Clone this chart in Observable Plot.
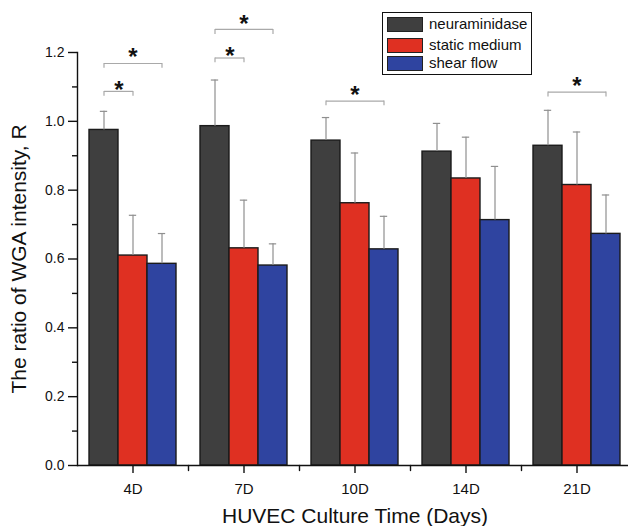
<!DOCTYPE html>
<html><head><meta charset="utf-8">
<script src="https://cdn.jsdelivr.net/npm/d3@7"></script>
<script src="https://cdn.jsdelivr.net/npm/@observablehq/plot@0.6"></script>
<style>
body{margin:0;background:#fff;}
#wrap{position:relative;width:628px;height:526px;font-family:"Liberation Sans",Arial,sans-serif;}
#legend{position:absolute;left:382px;top:12px;width:150px;height:63px;box-sizing:border-box;border:1.5px solid #111;background:#fff;}
.item{position:absolute;left:4px;height:16px;width:140px;}
.sw{position:absolute;left:0;top:0;width:36px;height:15px;box-sizing:border-box;border:1px solid #222;}
.lab{position:absolute;left:42px;top:-2px;font-size:15px;line-height:18px;white-space:nowrap;color:#111;}
svg g[aria-label="y-axis label"] text, svg g[aria-label="fx-axis label"] text{font-size:21px;}
svg g[aria-label="fx-axis tick label"] text{font-size:15px;}
</style></head><body><div id="wrap"></div>
<script>
// categories
const days = ["4D", "7D", "10D", "14D", "21D"];
const series = ["neuraminidase", "static medium", "shear flow"];
const colors = ["#3f3f3f", "#df3022", "#2f44a0"];
// mean values
const neuraminidase = [0.975, 0.986, 0.944, 0.912, 0.929];
const staticMedium = [0.610, 0.631, 0.762, 0.834, 0.815];
const shearFlow = [0.586, 0.581, 0.628, 0.713, 0.673];
// error (upper SD)
const neuraminidaseErr = [0.054, 0.134, 0.067, 0.082, 0.103];
const staticMediumErr = [0.117, 0.140, 0.146, 0.120, 0.154];
const shearFlowErr = [0.088, 0.063, 0.096, 0.156, 0.113];
// significance brackets
const bracketDay = ["4D", "4D", "7D", "7D", "10D", "21D"];
const bracketFrom = ["neuraminidase", "neuraminidase", "neuraminidase", "neuraminidase", "neuraminidase", "neuraminidase"];
const bracketTo = ["static medium", "shear flow", "static medium", "shear flow", "shear flow", "shear flow"];
const bracketTop = [1.087, 1.168, 1.184, 1.267, 1.059, 1.085];
const bracketLow = [1.073, 1.154, 1.170, 1.252, 1.045, 1.071];
const starY = [1.110, 1.204, 1.209, 1.300, 1.095, 1.121];
// tick labels
const majorTicks = [0, 0.2, 0.4, 0.6, 0.8, 1.0, 1.2];
const minorTicks = [0.1, 0.3, 0.5, 0.7, 0.9, 1.1];

const values = [neuraminidase, staticMedium, shearFlow];
const errors = [neuraminidaseErr, staticMediumErr, shearFlowErr];
const rows = days.flatMap((day, i) => series.map((s, j) => ({day, series: s, value: values[j][i], hi: values[j][i] + errors[j][i]})));
const brackets = bracketDay.map((day, i) => ({day, from: bracketFrom[i], to: bracketTo[i], top: bracketTop[i], low: bracketLow[i], star: starY[i]}));
const adjacent = brackets.filter(b => series.indexOf(b.to) - series.indexOf(b.from) === 1);
const spanning = brackets.filter(b => series.indexOf(b.to) - series.indexOf(b.from) === 2);

const W = 628, H = 526, mL = 76, mR = -4, mT = 52, mB = 61;
const outer = 0.374;
const facetW = (W - mL - mR) / days.length;
const barW = facetW / (series.length + 2 * outer);
const capW = 8;
const ink = "#111";
const tickShape = {draw(context, l) { context.moveTo(0, 0); context.lineTo(0, -l); }};

const plot = Plot.plot({
  width: W, height: H,
  marginLeft: mL, marginRight: mR, marginTop: mT, marginBottom: mB,
  style: {fontFamily: "Liberation Sans, Arial, sans-serif", fontSize: "14px", color: ink, background: "white"},
  fx: {domain: days, padding: 0},
  x: {domain: series, paddingInner: 0, paddingOuter: outer, axis: null},
  y: {domain: [0, 1.2]},
  color: {domain: series, range: colors},
  marks: [
    Plot.barY(rows, {fx: "day", x: "series", y: "value", fill: "series", stroke: "#1b1b1b", strokeWidth: 1.4}),
    Plot.ruleX(rows, {fx: "day", x: "series", y1: "value", y2: "hi", stroke: "#8f8f8f", strokeWidth: 1.2}),
    Plot.tickY(rows, {fx: "day", x: "series", y: "hi", stroke: "#8f8f8f", strokeWidth: 1.2, insetLeft: (barW - capW) / 2, insetRight: (barW - capW) / 2}),
    Plot.ruleY([0], {stroke: ink, strokeWidth: 1.4}),
    Plot.frame({anchor: "left", facetAnchor: "left", stroke: ink, strokeWidth: 1.4}),
    Plot.axisY({ticks: majorTicks, tickFormat: d3.format(".1f"), tickSize: 9, tickPadding: 4, strokeWidth: 1.4,
      label: "The ratio of WGA intensity, R", labelArrow: "none", labelAnchor: "center", labelOffset: 66}),
    Plot.axisY({ticks: minorTicks, tickFormat: () => "", tickSize: 5, strokeWidth: 1.4, label: null}),
    Plot.axisFx({anchor: "bottom", tickSize: 8, tickPadding: 10, strokeWidth: 1.4,
      label: "HUVEC Culture Time (Days)", labelArrow: "none", labelAnchor: "center", labelOffset: 57}),
    Plot.vector([0], {frameAnchor: "bottom-right", anchor: "start", rotate: 180, length: 5, shape: tickShape, stroke: ink, strokeWidth: 1.4}),
    Plot.link(brackets, {fx: "day", x1: "from", x2: "to", y1: "top", y2: "top", stroke: "#a9a9a9", strokeWidth: 1.2}),
    Plot.ruleX(brackets, {fx: "day", x: "from", y1: "low", y2: "top", stroke: "#a9a9a9", strokeWidth: 1.2}),
    Plot.ruleX(brackets, {fx: "day", x: "to", y1: "low", y2: "top", stroke: "#a9a9a9", strokeWidth: 1.2}),
    Plot.text(adjacent, {fx: "day", x: "from", y: "star", text: () => "*", dx: barW / 2, dy: 6.5, fontSize: 24, fontWeight: "bold", fill: ink}),
    Plot.text(spanning, {fx: "day", x: d => series[(series.indexOf(d.from) + series.indexOf(d.to)) / 2], y: "star", text: () => "*", dy: 6.5, fontSize: 24, fontWeight: "bold", fill: ink})
  ]
});

const wrap = document.getElementById("wrap");
wrap.appendChild(plot);
const legend = document.createElement("div");
legend.id = "legend";
const rowTops = [4, 24.5, 43];
series.forEach((s, i) => {
  const item = document.createElement("div");
  item.className = "item";
  item.style.top = rowTops[i] + "px";
  const sw = document.createElement("div");
  sw.className = "sw";
  sw.style.background = colors[i];
  const lab = document.createElement("div");
  lab.className = "lab";
  lab.textContent = s;
  item.appendChild(sw); item.appendChild(lab);
  legend.appendChild(item);
});
wrap.appendChild(legend);
</script>
</body></html>
